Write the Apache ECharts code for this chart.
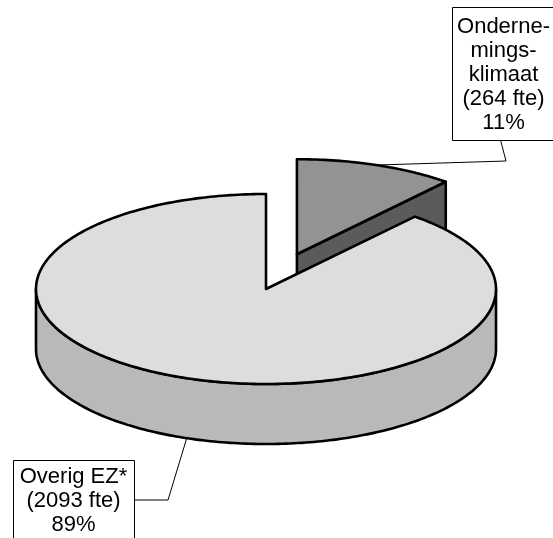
<!DOCTYPE html>
<html>
<head>
<meta charset="utf-8">
<script src="https://cdn.jsdelivr.net/npm/echarts@6/dist/echarts.min.js"></script>
<style>
    html, body { margin: 0; padding: 0; background: #fff; }
    #chart { width: 553px; height: 538px; }
</style>
</head>
<body>
<div id="chart"></div>
<script>
    // slices, clockwise from 12 o'clock
    const names = ['Onderne-\nmings-\nklimaat', 'Overig EZ*'];
    const fte = [264, 2093];
    const percents = [11, 89];

    const topColors = ['#939393', '#dddde0'];
    const sideColors = ['#5b5b5b', '#b9b9ba'];
    const explode = [0.39, 0];

    // pie layout
    const cx = 266, cy = 289, rx = 230, ry = 95, depth = 60;
    // label boxes [left, top, width, height] and leader elbow
    const labelBox = [[452, 7, 103, 133], [13, 460, 121, 80]];
    const labelElbow = [[506, 161], [168, 500]];

    const total = fte.reduce(function (a, b) { return a + b; }, 0);
    const rad = Math.PI / 180;

    function pt(c, deg, dy) {
        return [c[0] + rx * Math.cos(deg * rad), c[1] - ry * Math.sin(deg * rad) + (dy || 0)];
    }
    function arc(c, from, to, dy) {
        const pts = [];
        const n = Math.max(2, Math.ceil(Math.abs(to - from)));
        for (let i = 0; i <= n; i++) {
            pts.push(pt(c, from + (to - from) * i / n, dy));
        }
        return pts;
    }

    function renderItem(params, api) {
        const i = params.dataIndex;
        let before = 0;
        for (let k = 0; k < i; k++) before += fte[k];
        const a0 = 90 - before / total * 360;            // start angle
        const a1 = a0 - api.value(0) / total * 360;      // end angle (clockwise)
        const mid = (a0 + a1) / 2;
        const c = [cx + explode[i] * rx * Math.cos(mid * rad), cy - explode[i] * ry * Math.sin(mid * rad)];
        const line = { stroke: '#000', lineWidth: 2.6, lineJoin: 'round' };
        const children = [];

        // outer wall, front half only
        for (let k = -2; k <= 1; k++) {
            const lo = Math.max(a1, 180 + 360 * k), hi = Math.min(a0, 360 + 360 * k);
            if (hi > lo) {
                const pts = arc(c, lo, hi, 0).concat(arc(c, hi, lo, depth));
                children.push({ type: 'polygon', shape: { points: pts },
                    style: Object.assign({ fill: sideColors[i] }, line) });
            }
        }
        // radial cut faces that face the viewer
        [[a1, Math.cos(a1 * rad) > 1e-6], [a0, Math.cos(a0 * rad) < -1e-6]].forEach(function (f) {
            if (!f[1]) return;
            const o = pt(c, f[0]);
            const pts = [c, o, [o[0], o[1] + depth], [c[0], c[1] + depth]];
            children.push({ type: 'polygon', shape: { points: pts },
                style: Object.assign({ fill: sideColors[i] }, line) });
        });
        // top face
        children.push({ type: 'polygon', shape: { points: [c].concat(arc(c, a0, a1, 0)) },
            style: Object.assign({ fill: topColors[i] }, line) });

        // label leader + box
        const anchor = pt(c, mid, Math.sin(mid * rad) < 0 ? depth : 0);
        const b = labelBox[i], e = labelElbow[i];
        const end = i === 0 ? [b[0] + b[2] / 2 - 3, b[1] + b[3]] : [b[0] + b[2], e[1]];
        children.push({ type: 'polyline', shape: { points: [anchor, e, end] },
            style: { stroke: '#000', lineWidth: 1, fill: null } });
        children.push({ type: 'rect', shape: { x: b[0] + 0.5, y: b[1] + 0.5, width: b[2], height: b[3] },
            style: { fill: '#fff', stroke: '#000', lineWidth: 1 } });
        children.push({ type: 'text', style: {
            text: names[i] + '\n(' + fte[i] + ' fte)\n' + percents[i] + '%',
            x: b[0] + b[2] / 2, y: b[1] + b[3] / 2 + 1,
            align: 'center', verticalAlign: 'middle',
            font: '22px "Liberation Sans"', lineHeight: 24, fill: '#000'
        } });
        return { type: 'group', children: children };
    }

    const myChart = echarts.init(document.getElementById('chart'));
    const option = {
        animation: false,
        backgroundColor: '#fff',
        series: [{
            type: 'custom',
            coordinateSystem: 'none',
            renderItem: renderItem,
            data: fte.map(function (v, i) { return { name: names[i], value: [v] }; })
        }]
    };
    myChart.setOption(option);
</script>
</body>
</html>
